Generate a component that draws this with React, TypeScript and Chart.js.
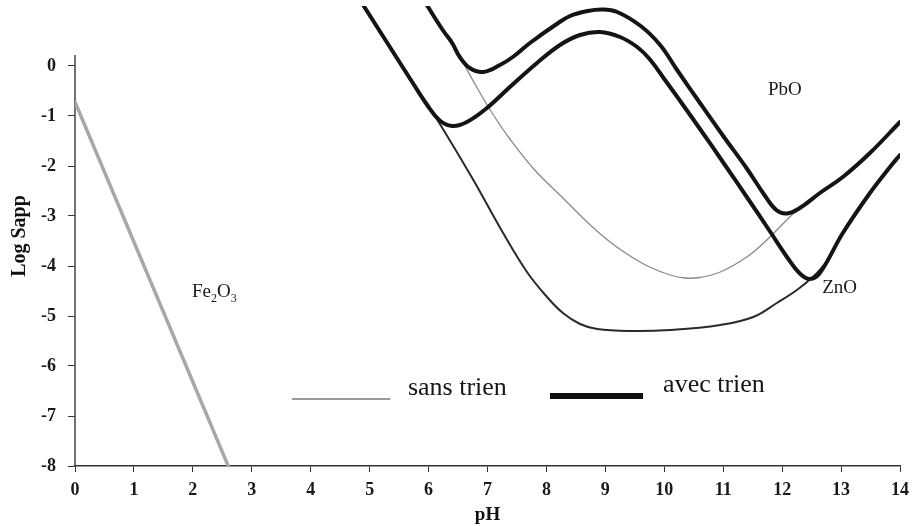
import React, { useEffect, useRef } from 'react';
import { Chart, registerables } from 'chart.js';

Chart.register(...registerables);

// ---------- data ----------
const xTickValues = [0, 1, 2, 3, 4, 5, 6, 7, 8, 9, 10, 11, 12, 13, 14];
const yTickValues = [0, -1, -2, -3, -4, -5, -6, -7, -8];

// Fe2O3
const fe2o3X = [0, 2.6];
const fe2o3Y = [-0.72, -8];

// ZnO avec trien (thick)
const znoAvecX = [4.9, 5.3, 5.7, 6.0, 6.2, 6.41, 6.65, 6.99, 7.38, 7.84, 8.23, 8.57, 8.91, 9.25, 9.54, 9.75, 10.0, 10.27, 10.66, 11.0, 11.4, 11.8, 12.1, 12.3, 12.47, 12.64, 13.03, 13.49, 13.83, 14.0];
const znoAvecY = [1.2, 0.46, -0.28, -0.82, -1.1, -1.2, -1.12, -0.84, -0.42, 0.06, 0.42, 0.62, 0.68, 0.58, 0.38, 0.14, -0.26, -0.7, -1.35, -1.93, -2.62, -3.32, -3.85, -4.15, -4.26, -4.14, -3.34, -2.54, -2.02, -1.78];

// PbO avec trien (thick)
const pboAvecX = [5.97, 6.24, 6.4, 6.53, 6.7, 6.92, 7.21, 7.43, 7.72, 8.15, 8.4, 8.7, 8.95, 9.2, 9.6, 9.93, 10.2, 10.6, 11.0, 11.4, 11.7, 11.9, 12.08, 12.3, 12.64, 13.03, 13.49, 14.0];
const pboAvecY = [1.22, 0.72, 0.46, 0.18, -0.04, -0.12, 0.02, 0.18, 0.46, 0.82, 1.0, 1.1, 1.13, 1.08, 0.8, 0.42, -0.05, -0.73, -1.4, -2.05, -2.58, -2.88, -2.95, -2.84, -2.54, -2.22, -1.74, -1.12];

// ZnO sans trien (thin)
const znoSansX = [4.9, 5.3, 5.7, 6.0, 6.14, 6.75, 7.26, 7.67, 8.01, 8.28, 8.57, 8.86, 9.42, 10.1, 10.95, 11.51, 11.91, 12.25, 12.52, 12.7];
const znoSansY = [1.2, 0.46, -0.28, -0.82, -1.06, -2.26, -3.33, -4.12, -4.62, -4.94, -5.16, -5.26, -5.3, -5.28, -5.18, -5.02, -4.74, -4.48, -4.22, -4.0];

// PbO sans trien (thin grey)
const pboSansX = [5.97, 6.24, 6.53, 6.82, 7.09, 7.38, 7.8, 8.28, 8.69, 9.08, 9.42, 9.75, 10.1, 10.35, 10.6, 10.95, 11.4, 11.74, 12.13, 12.3];
const pboSansY = [1.22, 0.72, 0.18, -0.43, -0.96, -1.46, -2.08, -2.64, -3.12, -3.52, -3.8, -4.02, -4.18, -4.24, -4.23, -4.12, -3.82, -3.48, -3.02, -2.84];

const seriesLabels = ['sans trien', 'avec trien'];
const compoundLabels = ['PbO', 'ZnO'];

const SERIF = '"Liberation Serif", "Times New Roman", serif';

function pts(xs: number[], ys: number[]) {
  return xs.map((x, i) => ({ x, y: ys[i] }));
}

const annotate = {
  id: 'annotate',
  beforeDatasetsDraw(chart: any) {
    const { ctx, scales } = chart;
    const x = scales.x;
    const y = scales.y;
    ctx.save();
    ctx.strokeStyle = '#444';
    ctx.lineWidth = 1.5;
    ctx.beginPath();
    const ax = x.getPixelForValue(0);
    ctx.moveTo(ax, y.getPixelForValue(0.22));
    ctx.lineTo(ax, y.getPixelForValue(-8));
    ctx.stroke();
    ctx.restore();
  },
  afterDatasetsDraw(chart: any) {
    const { ctx, scales } = chart;
    const x = scales.x;
    const y = scales.y;
    const px = (v: number) => x.getPixelForValue(v);
    const py = (v: number) => y.getPixelForValue(v);
    ctx.save();
    ctx.fillStyle = '#1a1a1a';
    ctx.textBaseline = 'alphabetic';
    ctx.textAlign = 'left';

    // Fe2O3 label with subscripts
    let cx = px(1.985);
    const by = py(-4.62);
    const big = `19px ${SERIF}`;
    const small = `12px ${SERIF}`;
    const parts: [string, boolean][] = [['Fe', false], ['2', true], ['O', false], ['3', true]];
    for (const [t, sub] of parts) {
      ctx.font = sub ? small : big;
      ctx.fillText(t, cx, sub ? by + 5 : by);
      cx += ctx.measureText(t).width;
    }

    ctx.font = big;
    ctx.fillText(compoundLabels[0], px(11.76), py(-0.58));
    ctx.fillText(compoundLabels[1], px(12.68), py(-4.54));

    // legend
    ctx.strokeStyle = '#9a9a9a';
    ctx.lineWidth = 2;
    ctx.beginPath();
    ctx.moveTo(px(3.68), py(-6.66));
    ctx.lineTo(px(5.35), py(-6.66));
    ctx.stroke();

    ctx.strokeStyle = '#111';
    ctx.lineWidth = 6;
    ctx.beginPath();
    ctx.moveTo(px(8.06), py(-6.6));
    ctx.lineTo(px(9.64), py(-6.6));
    ctx.stroke();

    ctx.font = `26px ${SERIF}`;
    ctx.fillStyle = '#151515';
    ctx.fillText(seriesLabels[0], px(5.65), py(-6.58));
    ctx.fillText(seriesLabels[1], px(9.98), py(-6.52));
    ctx.restore();
  },
};

function lineDs(label: string, xs: number[], ys: number[], color: string, width: number) {
  return {
    label,
    data: pts(xs, ys),
    borderColor: color,
    borderWidth: width,
    pointRadius: 0,
    tension: 0.4,
    fill: false,
    borderJoinStyle: 'round',
    borderCapStyle: 'round',
  };
}

export default function App() {
  const ref = useRef<HTMLCanvasElement>(null);
  useEffect(() => {
    const canvas = ref.current!;
    const chart = new Chart(canvas, {
      type: 'line',
      data: {
        datasets: [
          lineDs('PbO avec trien', pboAvecX, pboAvecY, '#141414', 4),
          lineDs('ZnO avec trien', znoAvecX, znoAvecY, '#141414', 4),
          lineDs('ZnO sans trien', znoSansX, znoSansY, '#2a2a2a', 2),
          lineDs('PbO sans trien', pboSansX, pboSansY, '#8a8a8a', 1.3),
          { ...lineDs('Fe2O3', fe2o3X, fe2o3Y, '#a8a8a8', 3.5), tension: 0 },
        ],
      },
      options: {
        animation: false,
        responsive: false,
        events: [],
        layout: { padding: { top: 6, right: 14, left: 0, bottom: 0 } },
        plugins: {
          legend: { display: false },
          tooltip: { enabled: false },
        },
        scales: {
          x: {
            type: 'linear',
            min: 0,
            max: 14,
            afterBuildTicks: (s: any) => {
              s.ticks = xTickValues.map((v) => ({ value: v }));
            },
            afterFit: (s: any) => {
              s.height = 60;
              s.paddingLeft = 0;
              s.paddingRight = 0;
            },
            ticks: {
              autoSkip: false,
              maxRotation: 0,
              padding: 8,
              color: '#1a1a1a',
              font: { family: SERIF, size: 18, weight: 'bold' },
            },
            grid: {
              display: true,
              drawOnChartArea: false,
              drawTicks: true,
              tickLength: 6,
              color: '#333',
            },
            border: { display: true, color: '#333', width: 1.5 },
            title: {
              display: true,
              text: 'pH',
              color: '#111',
              font: { family: SERIF, size: 19, weight: 'bold' },
              padding: { top: 0, bottom: 0 },
            },
          },
          y: {
            type: 'linear',
            min: -8,
            max: 1.2,
            afterBuildTicks: (s: any) => {
              s.ticks = yTickValues.map((v) => ({ value: v }));
            },
            afterFit: (s: any) => {
              s.width = 75;
              s.paddingTop = 0;
              s.paddingBottom = 0;
            },
            ticks: {
              padding: 12,
              color: '#1a1a1a',
              font: { family: SERIF, size: 18, weight: 'bold' },
            },
            grid: {
              display: true,
              drawOnChartArea: false,
              drawTicks: true,
              tickLength: 7,
              color: '#333',
            },
            border: { display: false },
            title: {
              display: true,
              text: 'Log Sapp',
              color: '#111',
              font: { family: SERIF, size: 20, weight: 'bold' },
              padding: { top: 8, bottom: 0 },
            },
          },
        },
      } as any,
      plugins: [annotate],
    });
    return () => chart.destroy();
  }, []);

  return (
    <div style={{ position: 'fixed', left: 0, top: 0, width: 914, height: 526, background: '#fff' }}>
      <canvas ref={ref} width={914} height={526} style={{ display: 'block', width: 914, height: 526 }} />
    </div>
  );
}
